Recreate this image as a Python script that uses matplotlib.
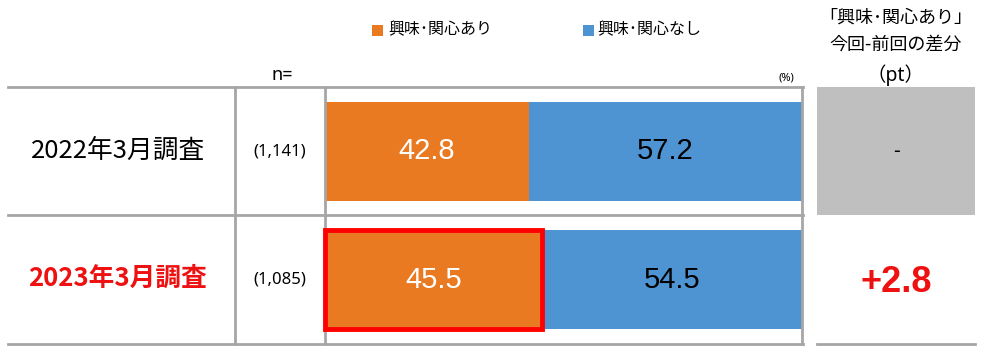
import matplotlib.pyplot as plt
from matplotlib.patches import Rectangle
from matplotlib.lines import Line2D

plt.rcParams['font.family'] = ['Noto Sans CJK JP', 'DejaVu Sans']

surveys = ['2022年3月調査', '2023年3月調査']
n_labels = ['(1,141)', '(1,085)']
interest_yes = [42.8, 45.5]
interest_no = [57.2, 54.5]
diff_labels = ['-', '+2.8']
legend_labels = ['興味･関心あり', '興味･関心なし']

orange = '#E97A22'
blue = '#4E93D2'
line_c = '#a6a6a6'

W, H = 1000, 357
fig = plt.figure(figsize=(10, 3.57), dpi=100)

def fx(x):
    return x / W

def fy(y):
    return 1 - y / H

# bar area
ax = fig.add_axes([fx(325), fy(344), fx(802 - 325), (344 - 87) / H])
ypos = [0, 1]
ax.barh(ypos, interest_yes, height=0.77, color=orange, label=legend_labels[0])
ax.barh(ypos, interest_no, left=interest_yes, height=0.77, color=blue, label=legend_labels[1])
ax.set_xlim(0, 100)
ax.set_ylim(1.5, -0.5)
ax.set_xticks([])
ax.set_yticks([])
for s in ['top', 'bottom']:
    ax.spines[s].set_visible(False)
for s in ['left', 'right']:
    ax.spines[s].set_color(line_c)
    ax.spines[s].set_linewidth(2)

for i in ypos:
    ax.text(interest_yes[i] / 2, i, f'{interest_yes[i]:.1f}', color='white',
            ha='center', va='center', fontsize=21, family='Liberation Sans')
    ax.text(interest_yes[i] + interest_no[i] / 2, i, f'{interest_no[i]:.1f}', color='black',
            ha='center', va='center', fontsize=21, family='Liberation Sans')

# red highlight around latest orange bar
ax.add_patch(Rectangle((0, 1 - 0.385), interest_yes[1], 0.77, fill=False,
                       edgecolor='#ff0000', linewidth=3.5, clip_on=False, zorder=5))

# table lines
for y in [87, 215, 344]:
    fig.add_artist(Line2D([fx(8), fx(803)], [fy(y), fy(y)], color=line_c, lw=2))
fig.add_artist(Line2D([fx(235), fx(235)], [fy(87), fy(344)], color=line_c, lw=2))

# right panel
fig.add_artist(Rectangle((fx(817), fy(215)), fx(975 - 817), (215 - 87) / H,
                         transform=fig.transFigure, color='#bfbfbf', lw=0))
fig.add_artist(Line2D([fx(817), fx(975)], [fy(344), fy(344)], color=line_c, lw=2))

row_y = [151, 280]
fig.text(fx(118), fy(row_y[0]), surveys[0], ha='center', va='center', fontsize=18.5)
fig.text(fx(118), fy(row_y[1] - 2), surveys[1], ha='center', va='center', fontsize=18.5,
         color='#ee1111', fontweight='bold')
for i in range(2):
    fig.text(fx(280), fy(row_y[i]), n_labels[i], ha='center', va='center', fontsize=12,
             family='Noto Sans')
fig.text(fx(896), fy(row_y[0]), diff_labels[0], ha='center', va='center', fontsize=14)
fig.text(fx(896), fy(row_y[1] + 2), diff_labels[1], ha='center', va='center', fontsize=26,
         color='#ee1111', fontweight='bold', family='Liberation Sans')

# headers
fig.text(fx(282), fy(75), 'n=', ha='center', va='center', fontsize=13, family='Noto Sans')
fig.text(fx(786), fy(78), '(%)', ha='center', va='center', fontsize=8, family='Noto Sans')
fig.text(fx(896), fy(18), '「興味･関心あり」', ha='center', va='center', fontsize=13)
fig.text(fx(896), fy(45), '今回-前回の差分', ha='center', va='center', fontsize=13)
fig.text(fx(896), fy(75), '（pt）', ha='center', va='center', fontsize=14,
         family=['Noto Sans', 'Noto Sans CJK JP'])

# legend
fig.add_artist(Rectangle((fx(372), fy(36)), fx(11), 11 / H, transform=fig.transFigure,
                         color=orange, lw=0))
fig.text(fx(388), fy(30), legend_labels[0], ha='left', va='center', fontsize=11.5)
fig.add_artist(Rectangle((fx(583), fy(36)), fx(11), 11 / H, transform=fig.transFigure,
                         color=blue, lw=0))
fig.text(fx(597), fy(30), legend_labels[1], ha='left', va='center', fontsize=11.5)

fig.savefig('out.png', dpi=100, facecolor='white')
